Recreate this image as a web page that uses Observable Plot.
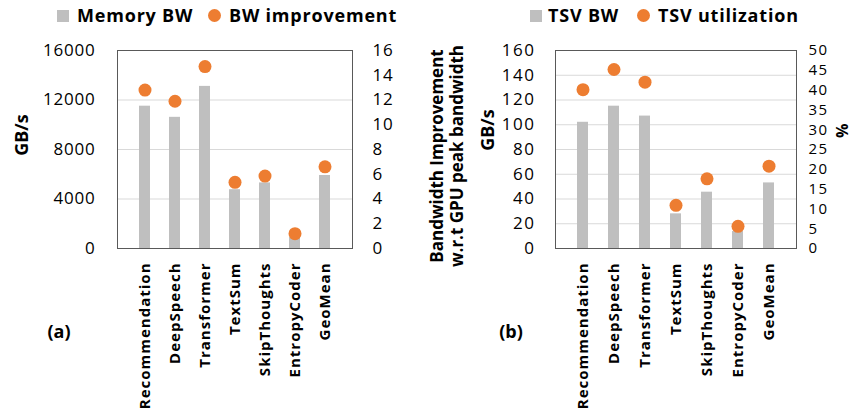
<!DOCTYPE html>
<html>
<head>
<meta charset="utf-8">
<script src="https://cdn.jsdelivr.net/npm/d3@7"></script>
<script src="https://cdn.jsdelivr.net/npm/@observablehq/plot@0.6"></script>
<style>
  body { margin: 0; background: #fff; font-family: "Open Sans", sans-serif; }
  #wrap { position: relative; width: 853px; height: 412px; overflow: hidden; }
  .panel { position: absolute; top: 0; }
  .panel svg text { letter-spacing: 0.8px; }
  #pb g[aria-label="y-axis tick label"] text { letter-spacing: 1.5px; }
  g[aria-label="x-axis tick label"] text { font-weight: bold; letter-spacing: 1px; }
  .lg { position: absolute; font-weight: bold; font-size: 18px; color: #000; line-height: 1; letter-spacing: 0.8px; }
  .sq { position: absolute; width: 12px; height: 12px; background: #bfbfbf; }
  .dt { position: absolute; width: 13px; height: 13px; border-radius: 50%; background: #ed7d31; }
  .rot { position: absolute; transform: translate(-50%, -50%) rotate(-90deg); white-space: nowrap; font-weight: bold; font-size: 18px; text-align: center; color: #000; line-height: 1.1; }
  .pct { position: absolute; width: 14px; height: 18px; line-height: 18px; text-align: center; transform: rotate(-90deg); font-weight: bold; font-size: 16px; color: #000; }
  .tag { position: absolute; transform: translate(-50%, -50%); font-weight: bold; font-size: 18px; color: #000; }
</style>
</head>
<body>
<div id="wrap"></div>
<script>
const categories = ["Recommendation", "DeepSpeech", "Transformer", "TextSum", "SkipThoughts", "EntropyCoder", "GeoMean"];
const memoryBW = [11500, 10600, 13100, 4750, 5300, 900, 5900];
const bwImprovement = [12.8, 11.9, 14.7, 5.35, 5.85, 1.2, 6.6];
const tsvBW = [102, 115, 107, 28, 45.5, 13.7, 53];
const tsvUtilization = [40.1, 45.2, 42, 10.9, 17.6, 5.6, 20.8];
const leftTicksA = [0, 4000, 8000, 12000, 16000];
const rightTicksA = [0, 2, 4, 6, 8, 10, 12, 14, 16];
const leftTicksB = [0, 20, 40, 60, 80, 100, 120, 140, 160];
const rightTicksB = [0, 5, 10, 15, 20, 25, 30, 35, 40, 45, 50];

const GRAY = "#bfbfbf", ORANGE = "#ed7d31";
const dataA = categories.map((c, i) => ({cat: c, bar: memoryBW[i], dot: bwImprovement[i]}));
const dataB = categories.map((c, i) => ({cat: c, bar: tsvBW[i], dot: tsvUtilization[i]}));

function panel({data, width, ml, mr, yMax, leftTicks, rightTicks, factor, lpad, rpad, rfont}) {
  return Plot.plot({
    width, height: 412,
    marginLeft: ml, marginRight: mr, marginTop: 50, marginBottom: 164,
    style: {fontFamily: "Open Sans, sans-serif", fontSize: "17px", color: "#000", background: "transparent"},
    x: {domain: categories, padding: 0.64, label: null},
    y: {domain: [0, yMax], label: null},
    marks: [
      Plot.gridY(leftTicks.filter(t => t > 0 && t < yMax), {stroke: "#d9d9d9", strokeOpacity: 1, strokeWidth: 1}),
      Plot.barY(data, {x: "cat", y: "bar", fill: GRAY}),
      Plot.dot(data, {x: "cat", y: d => d.dot * factor, r: 6.5, fill: ORANGE, stroke: "none"}),
      Plot.frame({stroke: "#595959", strokeWidth: 1}),
      Plot.axisY({anchor: "left", ticks: leftTicks, tickSize: 0, tickPadding: lpad, tickFormat: d => String(d), label: null, fontSize: 17}),
      Plot.axisY({anchor: "right", ticks: rightTicks.map(v => v * factor), tickSize: 0, tickPadding: rpad, tickFormat: d => String(Math.round(d / factor)), label: null, fontSize: rfont}),
      Plot.axisX({tickRotate: -90, tickSize: 0, tickPadding: 14, label: null, fontSize: 15})
    ]
  });
}

const wrap = document.getElementById("wrap");
const pa = panel({data: dataA, width: 426, ml: 117, mr: 74, yMax: 16000, leftTicks: leftTicksA, rightTicks: rightTicksA, factor: 1000, lpad: 22, rpad: 20, rfont: 17});
const pb = panel({data: dataB, width: 427, ml: 129, mr: 57, yMax: 160, leftTicks: leftTicksB, rightTicks: rightTicksB, factor: 3.2, lpad: 20, rpad: 12, rfont: 15});
const da = document.createElement("div"); da.className = "panel"; da.id = "pa"; da.style.left = "0px"; da.appendChild(pa); wrap.appendChild(da);
const db = document.createElement("div"); db.className = "panel"; db.id = "pb"; db.style.left = "426px"; db.appendChild(pb); wrap.appendChild(db);

function add(html) { wrap.insertAdjacentHTML("beforeend", html); }
// legends
add(`<div class="sq" style="left:57px;top:10px"></div><div class="lg" style="left:77px;top:6px">Memory BW</div>`);
add(`<div class="dt" style="left:208px;top:9px"></div><div class="lg" style="left:229px;top:6px">BW improvement</div>`);
add(`<div class="sq" style="left:530px;top:10px"></div><div class="lg" style="left:548px;top:6px">TSV BW</div>`);
add(`<div class="dt" style="left:637px;top:9px"></div><div class="lg" style="left:658px;top:6px">TSV utilization</div>`);
// axis titles
add(`<div class="rot" style="left:22px;top:135px">GB/s</div>`);
add(`<div class="rot" style="left:447px;top:156px;font-size:17px;line-height:20px">Bandwidth Improvement<br>w.r.t GPU peak bandwidth</div>`);
add(`<div class="rot" style="left:488px;top:130px">GB/s</div>`);
add(`<div class="pct" style="left:835px;top:122px">%</div>`);
add(`<div class="tag" style="left:59px;top:331px">(a)</div>`);
add(`<div class="tag" style="left:511px;top:331px">(b)</div>`);
</script>
</body>
</html>
